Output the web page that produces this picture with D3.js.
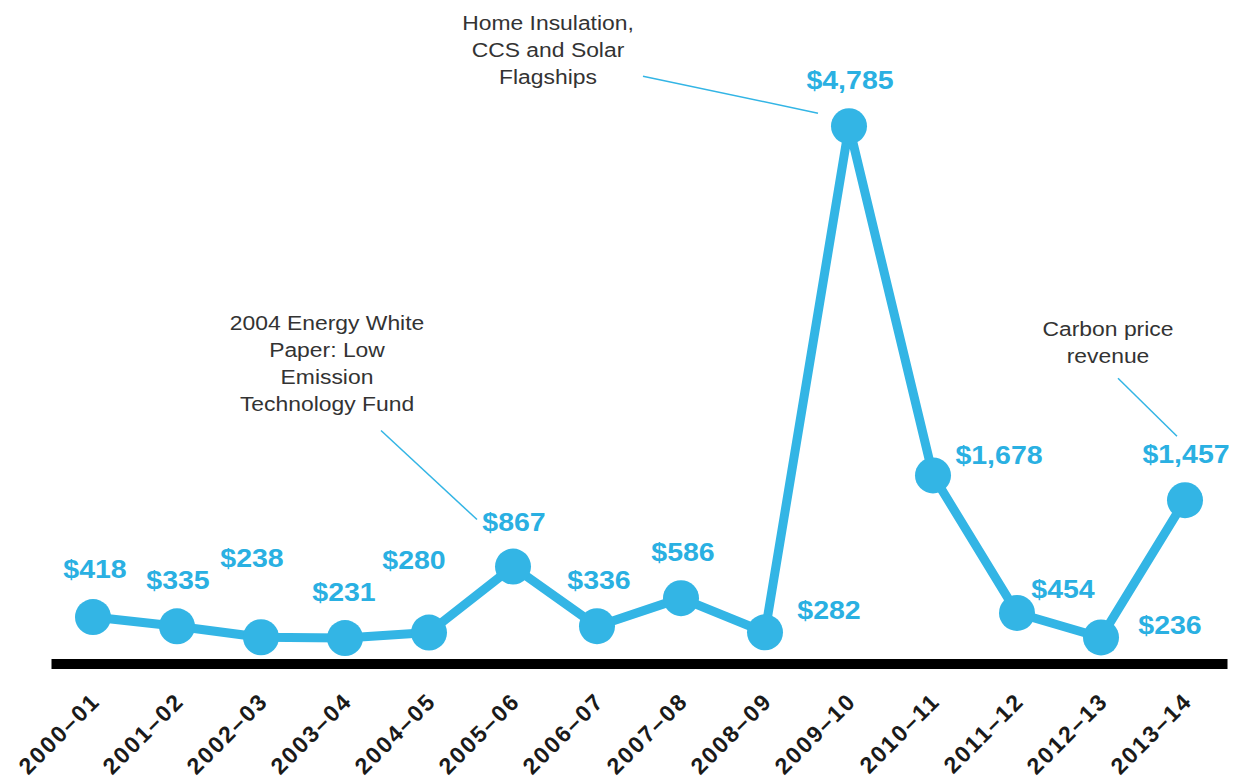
<!DOCTYPE html>
<html>
<head>
<meta charset="utf-8">
<script src="https://cdnjs.cloudflare.com/ajax/libs/d3/7.8.5/d3.min.js"></script>
<style>
  body { margin: 0; background: #fff; }
  text { font-family: "Liberation Sans", Arial, Helvetica, sans-serif; }
</style>
</head>
<body>
<div id="chart"></div>
<script>
// years and spending ($m)
var years = ["2000–01", "2001–02", "2002–03", "2003–04", "2004–05", "2005–06", "2006–07",
             "2007–08", "2008–09", "2009–10", "2010–11", "2011–12", "2012–13", "2013–14"];
var spend = [418, 335, 238, 231, 280, 867, 336, 586, 282, 4785, 1678, 454, 236, 1457];

// annotation text, keyed by year
var noteYears = ["2005–06", "2009–10", "2013–14"];
var noteLines = [
  ["2004 Energy White", "Paper: Low", "Emission", "Technology Fund"],
  ["Home Insulation,", "CCS and Solar", "Flagships"],
  ["Carbon price", "revenue"]
];

// label placement relative to each point (layout only)
var labelDx = [2, 1, -9, -1, -15, 1, 2, 2, 64, 1, 66, 46, 69, 1];
var labelDy = [-39, -37, -70, -37, -64, -36, -37, -37, -13, -37, -11, -15, -3, -37];
// note text and leader offsets relative to the point (layout only)
var noteText = [[-186, -237], [-301, -96], [-77, -164]];
var noteLeader = [[-132, -136, -36, -47], [-206, -50, -31, -13], [-67, -122, -8, -64]];

var svgWidth = 1239, svgHeight = 784;
var blue = "#33b5e5";

var svg = d3.select("#chart")
  .append("svg")
  .attr("width", svgWidth)
  .attr("height", svgHeight);

var x = d3.scalePoint()
  .domain(years)
  .range([51, 1227])
  .padding(0.5);

var y = d3.scaleLinear()
  .domain([0, 5000])
  .range([664, 102]);

// axis: thick black baseline with rotated year labels
var axis = svg.append("g")
  .attr("transform", "translate(0," + 663.5 + ")")
  .call(d3.axisBottom(x).tickSize(0).tickSizeOuter(0));

axis.select(".domain")
  .attr("stroke", "#000")
  .attr("stroke-width", 10);

axis.selectAll(".tick text")
  .attr("x", 0)
  .attr("y", 0)
  .attr("dy", 0)
  .attr("text-anchor", "end")
  .attr("transform", "translate(8,39) rotate(-45)")
  .attr("fill", "#1a1a1a")
  .style("font-size", "23px")
  .style("font-weight", "bold")
  .style("letter-spacing", "2px");

// leader lines + notes
noteYears.forEach(function(yr, i) {
  var idx = years.indexOf(yr);
  var px = x(yr), py = y(spend[idx]);
  var l = noteLeader[i];

  svg.append("line")
    .attr("x1", px + l[0]).attr("y1", py + l[1])
    .attr("x2", px + l[2]).attr("y2", py + l[3])
    .attr("stroke", blue)
    .attr("stroke-width", 1.5);

  var t = svg.append("text")
    .attr("transform", "translate(" + (px + noteText[i][0]) + "," + (py + noteText[i][1]) + ") scale(1.09,1)")
    .attr("text-anchor", "middle")
    .attr("fill", "#333")
    .style("font-size", "21px");

  t.selectAll("tspan")
    .data(noteLines[i])
    .enter()
    .append("tspan")
      .attr("x", 0)
      .attr("y", function(d, j) { return j * 27; })
      .text(function(d) { return d; });
});

// line
var line = d3.line()
  .x(function(d, i) { return x(years[i]); })
  .y(function(d) { return y(d); });

svg.append("path")
  .datum(spend)
  .attr("d", line)
  .attr("fill", "none")
  .attr("stroke", blue)
  .attr("stroke-width", 9)
  .attr("stroke-linejoin", "round");

// points
svg.append("g")
  .selectAll("circle")
  .data(spend)
  .enter()
  .append("circle")
    .attr("cx", function(d, i) { return x(years[i]); })
    .attr("cy", function(d) { return y(d); })
    .attr("r", 18)
    .attr("fill", blue);

// value labels
var fmt = d3.format(",");
svg.append("g")
  .selectAll("text")
  .data(spend)
  .enter()
  .append("text")
    .attr("transform", function(d, i) {
      return "translate(" + (x(years[i]) + labelDx[i]) + "," + (y(d) + labelDy[i]) + ") scale(1.14,1)";
    })
    .attr("text-anchor", "middle")
    .attr("fill", "#2ab0e2")
    .style("font-size", "25px")
    .style("font-weight", "bold")
    .text(function(d) { return "$" + fmt(d); });
</script>
</body>
</html>
